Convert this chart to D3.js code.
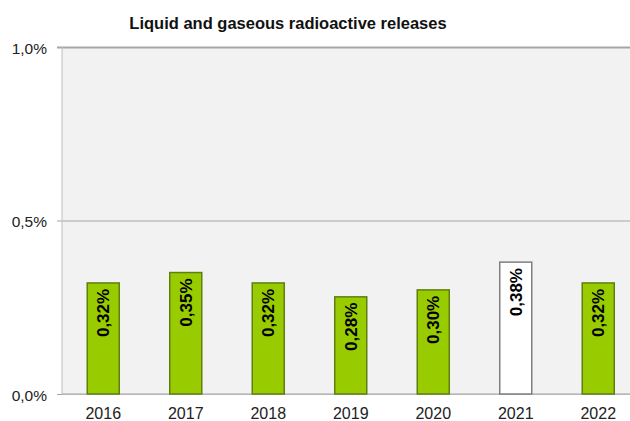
<!DOCTYPE html>
<html><head><meta charset="utf-8">
<script src="https://cdn.jsdelivr.net/npm/d3@7"></script>
<style>body{margin:0;background:#fff}svg{display:block;font-family:"Liberation Sans",Arial,sans-serif}</style>
</head><body>
<script>
const title = "Liquid and gaseous radioactive releases";
const categories = ["2016","2017","2018","2019","2020","2021","2022"];
const values = [0.32,0.35,0.32,0.28,0.30,0.38,0.32];
const highlight = ["2021"];
const yTicks = [0, 0.5, 1.0];
const yTickLabels = ["0,0%","0,5%","1,0%"];

const W = 630, H = 421;
const m = {left: 62, top: 47, bottom: 394};
const step = 82.5;
const svg = d3.select("body").append("svg").attr("width", W).attr("height", H);

const x = d3.scaleBand().domain(categories).range([m.left, m.left + step*categories.length])
  .paddingInner(0.612).paddingOuter(0.306);
const y = d3.scaleLinear().domain([0, 1]).range([m.bottom, m.top]);

svg.append("rect").attr("x", m.left).attr("y", m.top).attr("width", W - m.left).attr("height", m.bottom - m.top).attr("fill", "#f2f2f2");

const yAxis = d3.axisLeft(y).tickValues(yTicks).tickSize(-(W - m.left)).tickPadding(5)
  .tickFormat((d,i) => yTickLabels[i]);
const gy = svg.append("g").attr("transform", `translate(${m.left},0)`).call(yAxis);
gy.select(".domain").remove();
gy.selectAll(".tick line").attr("stroke", "#a6a6a6").attr("stroke-width", (d) => d === 1 ? 2 : 1)
  .attr("x1", -5);
gy.selectAll(".tick text").attr("font-size", 15.5).attr("fill", "#222").attr("x", -15).attr("dy", "0.4em");
svg.append("line").attr("x1", m.left).attr("x2", m.left).attr("y1", m.top).attr("y2", m.bottom).attr("stroke", "#bdbdbd");

const xAxis = d3.axisBottom(x).tickSize(0).tickPadding(14);
const gx = svg.append("g").attr("transform", `translate(0,${m.bottom})`).call(xAxis);
gx.select(".domain").remove();
gx.selectAll(".tick text").attr("font-size", 16).attr("fill", "#222");
svg.append("line").attr("x1", m.left).attr("x2", W).attr("y1", m.bottom).attr("y2", m.bottom).attr("stroke", "#bdbdbd").attr("stroke-width", 1.5);

const data = categories.map((c, i) => ({c, v: values[i]}));
svg.append("g").selectAll("rect").data(data).join("rect")
  .attr("x", d => x(d.c)).attr("width", x.bandwidth())
  .attr("y", d => y(d.v)).attr("height", d => y(0) - y(d.v))
  .attr("fill", d => highlight.includes(d.c) ? "#ffffff" : "#99cc00")
  .attr("stroke", d => highlight.includes(d.c) ? "#7f7f7f" : "#5f7f10").attr("stroke-width", 1.5);

svg.append("g").selectAll("text").data(data).join("text")
  .attr("transform", d => `translate(${x(d.c) + x.bandwidth()/2 + 6},${y(d.v) + 30}) rotate(-90)`)
  .attr("text-anchor", "middle").attr("font-size", 17).attr("font-weight", "bold").attr("fill", "#000")
  .text(d => d.v.toFixed(2).replace(".", ",") + "%");

svg.append("text").attr("x", 288).attr("y", 29).attr("text-anchor", "middle")
  .attr("font-size", 16.5).attr("font-weight", "bold").attr("fill", "#111").text(title);
</script>
</body></html>
